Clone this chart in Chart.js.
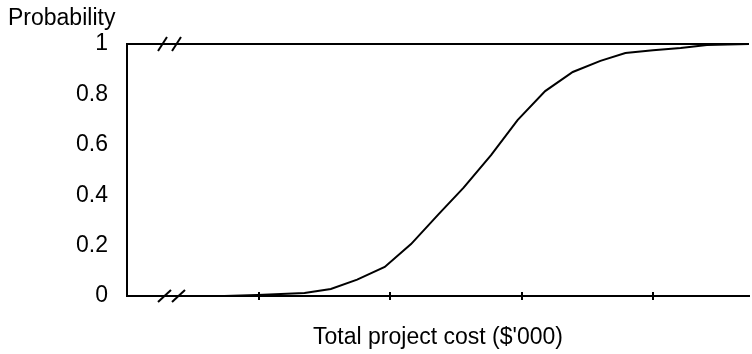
<!DOCTYPE html>
<html>
<head>
<meta charset="utf-8">
<script src="https://cdn.jsdelivr.net/npm/chart.js@4/dist/chart.umd.min.js"></script>
<style>
  html, body { margin: 0; padding: 0; background: #fff; }
  #wrap { width: 752px; height: 354px; position: relative; }
</style>
</head>
<body>
<div id="wrap"><canvas id="c"></canvas></div>
<script>
// cost values (tick spacing = 1 unit, ticks unlabeled in the source)
const costs = [0.74, 0.99, 1.35, 1.55, 1.75, 1.96, 2.16, 2.37, 2.56, 2.77, 2.97, 3.18, 3.39, 3.60, 3.79, 4.00, 4.21, 4.41, 4.73];
const probs = [0.0, 0.004, 0.012, 0.028, 0.065, 0.115, 0.206, 0.325, 0.43, 0.56, 0.698, 0.813, 0.889, 0.933, 0.964, 0.975, 0.984, 0.996, 1.0];
const yTicks = [0, 0.2, 0.4, 0.6, 0.8, 1];

const FONT = 'Liberation Sans, Arial, sans-serif';
const FSIZE = 23;

const axisExtras = {
  id: 'axisExtras',
  afterDraw(chart) {
    const {ctx, chartArea: {top, bottom, left}, scales: {x}} = chart;
    ctx.save();
    ctx.strokeStyle = '#000';
    ctx.lineWidth = 2;
    // tick marks crossing the x axis
    x.ticks.forEach(t => {
      if (t.value <= x.min || !Number.isInteger(t.value)) return;
      const px = Math.round(x.getPixelForValue(t.value));
      ctx.beginPath();
      ctx.moveTo(px, bottom - 4);
      ctx.lineTo(px, bottom + 4);
      ctx.stroke();
    });
    // axis break marks
    [[top, 9, 7], [bottom, 13, 6]].forEach(([yy, w, h]) => {
      [left + 31, left + 45].forEach(x0 => {
        ctx.beginPath();
        ctx.moveTo(x0, yy + h);
        ctx.lineTo(x0 + w, yy - h);
        ctx.stroke();
      });
    });
    // y title
    ctx.fillStyle = '#000';
    ctx.font = FSIZE + 'px ' + FONT;
    ctx.textAlign = 'left';
    ctx.textBaseline = 'middle';
    ctx.fillText('Probability', 8, 19);
    ctx.restore();
  }
};

new Chart(document.getElementById('c'), {
  type: 'line',
  data: {
    datasets: [{
      data: costs.map((c, i) => ({x: c, y: probs[i]})),
      borderColor: '#000',
      borderWidth: 2,
      pointRadius: 0,
      tension: 0,
      fill: false
    }]
  },
  options: {
    responsive: true,
    maintainAspectRatio: false,
    animation: false,
    layout: {padding: {top: 44, right: 0, left: 0, bottom: 0}},
    plugins: {legend: {display: false}, tooltip: {enabled: false}},
    scales: {
      x: {
        type: 'linear',
        min: 0,
        max: 4.73,
        afterFit(scale) { scale.height = 58; },
        ticks: {stepSize: 1, callback: () => '', display: true},
        grid: {display: false},
        border: {display: true, color: '#000', width: 2},
        title: {
          display: true,
          text: "Total project cost ($'000)",
          color: '#000',
          font: {family: FONT, size: FSIZE},
          padding: 3
        }
      },
      y: {
        min: 0,
        max: 1,
        afterFit(scale) { scale.width = 127; },
        afterBuildTicks(scale) { scale.ticks = yTicks.map(v => ({value: v})); },
        ticks: {
          color: '#000',
          font: {family: FONT, size: FSIZE},
          padding: 19,
          callback: v => String(v)
        },
        grid: {
          drawTicks: false,
          color: ctx => (ctx.tick && ctx.tick.value === 1 ? '#000' : 'rgba(0,0,0,0)'),
          lineWidth: 2
        },
        border: {display: true, color: '#000', width: 2}
      }
    }
  },
  plugins: [axisExtras]
});
</script>
</body>
</html>
